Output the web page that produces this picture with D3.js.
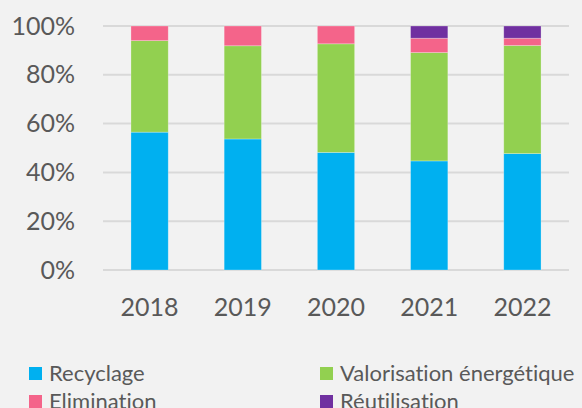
<!DOCTYPE html>
<html>
<head>
<meta charset="utf-8">
<script src="https://cdn.jsdelivr.net/npm/d3@7"></script>
<style>
  html, body { margin: 0; padding: 0; background: #f2f2f2; }
  svg { display: block; font-family: Lato, "Open Sans", sans-serif; font-variant-ligatures: none; }
</style>
</head>
<body>
<div id="chart"></div>
<script>
// data (share of total, %)
var years = ["2018", "2019", "2020", "2021", "2022"];
var recyclage = [56.5, 53.7, 48.2, 44.7, 47.7];
var valorisation = [37.5, 38.2, 44.5, 44.4, 44.3];
var elimination = [6.0, 8.1, 7.3, 5.9, 3.0];
var reutilisation = [0, 0, 0, 5.0, 5.0];
var yTicks = [0, 20, 40, 60, 80, 100];

var seriesNames = ["Recyclage", "Valorisation énergétique", "Elimination", "Réutilisation"];
var seriesKeys = ["rec", "val", "eli", "reu"];
var colors = ["#00b0f0", "#92d050", "#f4648a", "#7030a0"];

var rows = years.map(function (y, i) {
  return {year: y, rec: recyclage[i], val: valorisation[i], eli: elimination[i], reu: reutilisation[i]};
});

var W = 582, H = 408;
var margin = {top: 26, right: 13, bottom: 138, left: 103};
var width = W - margin.left - margin.right,
    height = H - margin.top - margin.bottom;

var svg = d3.select("#chart").append("svg")
    .attr("width", W)
    .attr("height", H);

var main = svg.append("g")
    .attr("transform", "translate(" + margin.left + "," + margin.top + ")");

var x = d3.scaleBand().domain(years).range([0, width]).paddingInner(0.6).paddingOuter(0.3);
var y = d3.scaleLinear().domain([0, 100]).range([height, 0]);

// gridlines
main.selectAll(".grid")
  .data(yTicks)
  .enter().append("line")
    .attr("x1", 0).attr("x2", width)
    .attr("y1", function (d) { return y(d); })
    .attr("y2", function (d) { return y(d); })
    .attr("stroke", "#d9d9d9")
    .attr("stroke-width", 2);

// y axis labels
var yAxis = d3.axisLeft(y).tickValues(yTicks).tickSize(0).tickPadding(28)
    .tickFormat(function (d) { return d + "%"; });
main.append("g").call(yAxis)
  .call(function (g) { g.select(".domain").remove(); })
  .selectAll("text")
    .attr("fill", "#595959")
    .style("font-size", "25px")
    .style("font-family", "Lato, 'Open Sans', sans-serif");

// x axis labels
var xAxis = d3.axisBottom(x).tickSize(0).tickPadding(28);
main.append("g").attr("transform", "translate(0," + height + ")").call(xAxis)
  .call(function (g) { g.select(".domain").remove(); })
  .selectAll("text")
    .attr("fill", "#595959")
    .style("font-size", "25px")
    .style("font-family", "Lato, 'Open Sans', sans-serif");

// stacked bars
var stack = d3.stack().keys(seriesKeys);
var layers = stack(rows);

main.selectAll(".layer")
  .data(layers)
  .enter().append("g")
    .attr("fill", function (d, i) { return colors[i]; })
  .selectAll("rect")
  .data(function (d) { return d; })
  .enter().append("rect")
    .attr("x", function (d) { return x(d.data.year); })
    .attr("width", x.bandwidth())
    .attr("y", function (d) { return y(d[1]); })
    .attr("height", function (d) { return y(d[0]) - y(d[1]); })
    .attr("stroke", "rgba(255,255,255,0.35)")
    .attr("stroke-width", 0.75);

// legend, two columns
var legend = svg.append("g");
var item = legend.selectAll(".item")
  .data(seriesNames)
  .enter().append("g")
    .attr("transform", function (d, i) {
      return "translate(" + (i % 2 === 0 ? 29 : 320) + "," + (367 + Math.floor(i / 2) * 28) + ")";
    });

item.append("rect")
    .attr("width", 13).attr("height", 13)
    .attr("fill", function (d, i) { return colors[i]; });

item.append("text")
    .attr("x", 20).attr("y", 14)
    .attr("fill", "#595959")
    .style("font-size", "22px")
    .text(function (d) { return d; });
</script>
</body>
</html>
